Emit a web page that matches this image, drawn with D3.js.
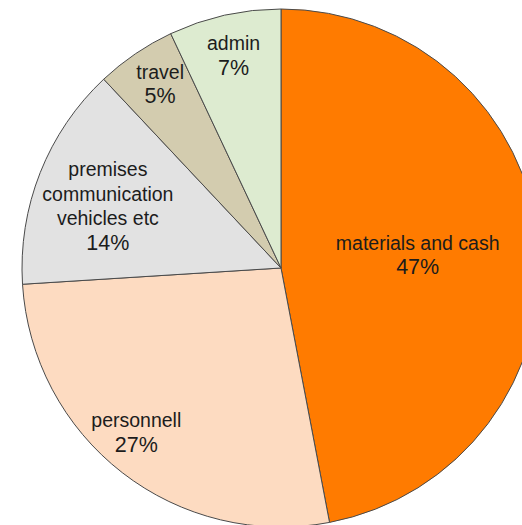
<!DOCTYPE html>
<html>
<head>
<meta charset="utf-8">
<script src="https://cdn.jsdelivr.net/npm/d3@7"></script>
<style>
  html, body { margin: 0; padding: 0; background: #fff; }
  svg { display: block; }
  .slice-label { font-family: "Liberation Sans", Arial, Helvetica, sans-serif; font-size: 19.5px; fill: #1c1c1c; }
  .slice-label .pct { font-size: 21.5px; }
</style>
</head>
<body>
<svg id="chart"></svg>
<script>
// budget split
var categories = ["materials and cash", "personnell", "premises communication vehicles etc", "travel", "admin"];
var values = [47, 27, 14, 5, 7];
var labelLines = [
  ["materials and cash"],
  ["personnell"],
  ["premises", "communication", "vehicles etc"],
  ["travel"],
  ["admin"]
];
var colors = ["#ff7b00", "#fddbc1", "#e2e2e2", "#d3ccaf", "#ddebd0"];

var width = 522, height = 525;
var cx = 281, cy = 268, radius = 259;
var lineHeight = 24.8;
// where each label sits: share of the radius, and share along the slice's sweep
var labelRadius = [0.53, 0.845, 0.71, 0.85, 0.84];
var labelSweep = [0.5, 0.537, 0.462, 0.55, 0.5];

var svg = d3.select("#chart")
    .attr("width", width)
    .attr("height", height);

var g = svg.append("g")
    .attr("transform", "translate(" + cx + "," + cy + ")");

var pie = d3.pie()
    .sort(null)
    .value(function(d) { return d.value; });

var data = categories.map(function(c, i) {
  return { name: c, value: values[i], lines: labelLines[i], color: colors[i], i: i };
});

var arcs = pie(data);

var arc = d3.arc()
    .innerRadius(0)
    .outerRadius(radius);

g.selectAll("path.slice")
    .data(arcs)
    .enter().append("path")
    .attr("class", "slice")
    .attr("d", arc)
    .style("fill", function(d) { return d.data.color; })
    .style("stroke", "#4a4a4a")
    .style("stroke-width", 1)
    .style("stroke-linejoin", "round");

var total = d3.sum(values);

var labels = g.selectAll("text.slice-label")
    .data(arcs)
    .enter().append("text")
    .attr("class", "slice-label")
    .attr("text-anchor", "middle")
    .attr("transform", function(d) {
      var i = d.data.i;
      var r = radius * labelRadius[i];
      var a = d.startAngle + (d.endAngle - d.startAngle) * labelSweep[i];
      return "translate(" + (Math.sin(a) * r) + "," + (-Math.cos(a) * r) + ")";
    });

labels.each(function(d) {
  var t = d3.select(this);
  var lines = d.data.lines.concat([Math.round(d.data.value / total * 100) + "%"]);
  var first = -(lines.length - 1) * lineHeight / 2 + 7;
  lines.forEach(function(l, k) {
    t.append("tspan")
      .attr("class", k == lines.length - 1 ? "pct" : null)
      .attr("x", 0)
      .attr("y", first + k * lineHeight)
      .text(l);
  });
});
</script>
</body>
</html>
